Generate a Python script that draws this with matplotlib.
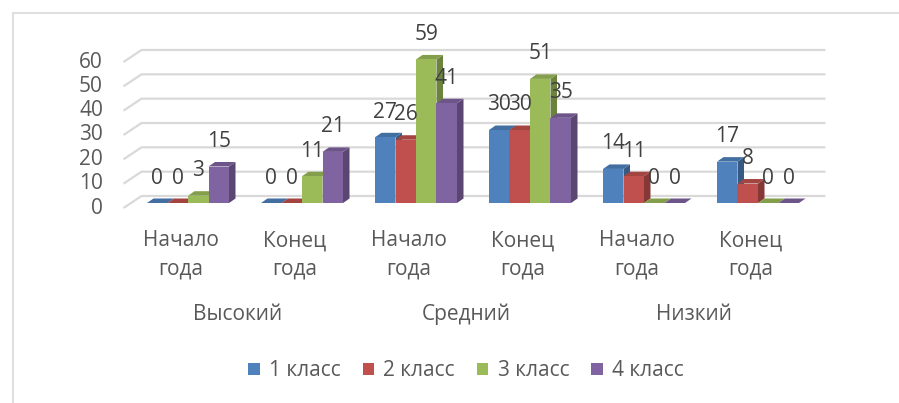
import matplotlib
matplotlib.use('Agg')
import matplotlib.pyplot as plt
from matplotlib.patches import Polygon, Rectangle, Patch
from matplotlib.transforms import IdentityTransform
import numpy as np

plt.rcParams['font.family'] = ['Open Sans', 'DejaVu Sans']

# ---- data ----
categories = ["Начало\nгода", "Конец\nгода", "Начало\nгода", "Конец\nгода", "Начало\nгода", "Конец\nгода"]
groups = ["Высокий", "Средний", "Низкий"]
series_names = ["1 класс", "2 класс", "3 класс", "4 класс"]
class1 = [0, 0, 27, 30, 14, 17]
class2 = [0, 0, 26, 30, 11, 8]
class3 = [3, 11, 59, 51, 0, 0]
class4 = [15, 21, 41, 35, 0, 0]
yticks = [0, 10, 20, 30, 40, 50, 60]

series = [class1, class2, class3, class4]
colors = ["#4F81BD", "#C0504D", "#9BBB59", "#8064A2"]

W, H = 899, 403
fig = plt.figure(figsize=(W / 100, H / 100), dpi=100)
fig.patch.set_facecolor('white')

ax = fig.add_axes([131 / W, 200 / H, 684 / W, 146 / H])
ax.set_xlim(-0.5, 5.5)
ax.set_ylim(0, 60)
ax.axis('off')

TXT = '#595959'
FS = 15

# depth offsets (pixels)
BACK = np.array([10.5, 7.0])
FRONT = np.array([-7.5, -5.0])
BD = np.array([6.5, 4.5])  # bar depth

inv = ax.transData.inverted()
def d(pts):
    return ax.transData.transform(np.asarray(pts, dtype=float))
def back_to_data(disp):
    return inv.transform(np.asarray(disp, dtype=float))

xmin, xmax = ax.get_xlim()
# gridlines on back wall + left slanted edges
for v in yticks:
    p0, p1 = d([(xmin, v), (xmax, v)])
    line = back_to_data([p0 + FRONT, p0 + BACK, p1 + BACK])
    ax.plot(line[:, 0], line[:, 1], color='#D9D9D9', lw=1.6, zorder=0,
            clip_on=False, solid_capstyle='butt')
    fp = p0 + FRONT
    fig.text(103 / W, (fp[1]) / H, str(v), ha='right', va='center',
             fontsize=FS, color=TXT)

def shade(c, f):
    r, g, b = matplotlib.colors.to_rgb(c)
    return (r * f, g * f, b * f)

n = len(series)
w = 20.5 / 114
x = np.arange(len(categories))
z = 2
for i in range(len(categories)):
    for j, s in enumerate(series):
        xc = x[i] + (j - (n - 1) / 2) * w
        h = s[i]
        x0, x1 = xc - w / 2, xc + w / 2
        a0, a1, b0, b1 = d([(x0, 0), (x1, 0), (x0, h), (x1, h)])
        side = back_to_data([a1, b1, b1 + BD, a1 + BD])
        ax.add_patch(Polygon(side, closed=True, facecolor=shade(colors[j], 0.7),
                             edgecolor='none', zorder=z, clip_on=False))
        top = back_to_data([b0, b1, b1 + BD, b0 + BD])
        ax.add_patch(Polygon(top, closed=True, facecolor=shade(colors[j], 0.85),
                             edgecolor='none', zorder=z, clip_on=False))
        if h > 0:
            ax.bar([xc], [h], width=w, color=colors[j], zorder=z + 0.5,
                   clip_on=False, linewidth=0)
        ax.annotate(str(h), (xc, h), xytext=(0, 25), textcoords='offset pixels',
                    ha='center', va='center', fontsize=FS, color='#404040',
                    zorder=50, annotation_clip=False)
        z += 1

# category labels
for i, c in enumerate(categories):
    l1, l2 = c.split("\n")
    ax.annotate(l1, (x[i], 0), xytext=(-7, -38), textcoords='offset pixels',
                ha='center', va='center', fontsize=FS, color=TXT, annotation_clip=False)
    ax.annotate(l2, (x[i], 0), xytext=(-7, -66), textcoords='offset pixels',
                ha='center', va='center', fontsize=FS, color=TXT, annotation_clip=False)
for k, g in enumerate(groups):
    ax.annotate(g, (2 * k + 0.5, 0), xytext=(-7, -111), textcoords='offset pixels',
                ha='center', va='center', fontsize=FS, color=TXT, annotation_clip=False)

# legend
handles = [Patch(facecolor=c, edgecolor='none') for c in colors]
leg = fig.legend(handles, series_names, loc='center', bbox_to_anchor=(466 / W, 32 / H),
                 ncol=4, frameon=False, fontsize=FS, handlelength=0.55, handleheight=0.55,
                 handletextpad=0.45, columnspacing=1.05, labelcolor=TXT)

# chart border (top and left visible, cropped at right/bottom)
fig.add_artist(Rectangle((12.5, -5), 1000, 395.5, transform=IdentityTransform(),
                         fill=False, edgecolor='#D9D9D9', lw=1.2))

fig.savefig('out.png', dpi=100, facecolor='white')
